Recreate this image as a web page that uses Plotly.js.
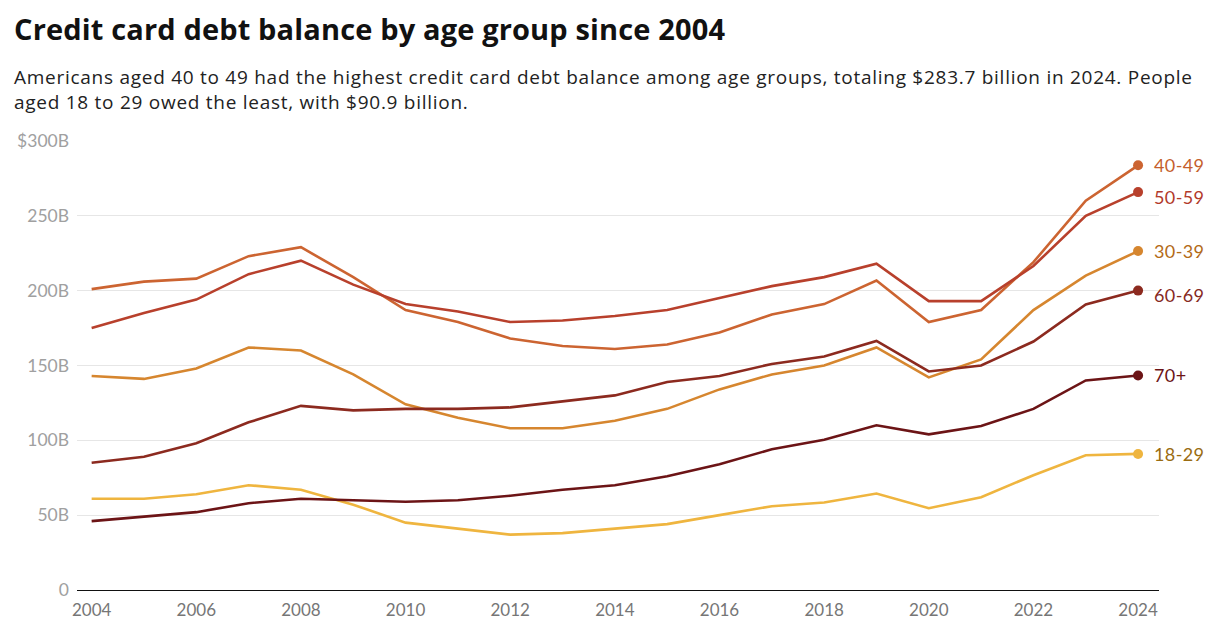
<!DOCTYPE html>
<html>
<head>
<meta charset="utf-8">
<script src="https://cdn.plot.ly/plotly-3.0.1.min.js"></script>
<style>
  html, body { margin: 0; padding: 0; background: #fff; }
  #chart { width: 1214px; height: 634px; }
</style>
</head>
<body>
<div id="chart"></div>
<script>
const years = [2004,2005,2006,2007,2008,2009,2010,2011,2012,2013,2014,2015,2016,2017,2018,2019,2020,2021,2022,2023,2024];

const age18_29 = [61,61,64,70,67,57,45,41,37,38,41,44,50,56,58.4,64.4,54.6,62,76.7,90,90.9];
const age30_39 = [143,141,148,162,160,144,124,115,108,108,113,121,134,144,150,162,142,154,187,210,226.4];
const age40_49 = [201,206,208,223,229,209,187,179,168,163,161,164,172,184,191,206.7,179,187,219,260,283.7];
const age50_59 = [175,185,194,211,220,204,191,186,179,180,183,187,195,203,209,218,193,193,216.4,250,265.8];
const age60_69 = [85,89,98,112,123,120,121,121,122,126,130,139,143,151,156,166.4,146,150,166,190.7,200];
const age70plus = [46,49,52,58,61,60,59,60,63,67,70,76,84,94,100.4,110,104,109.5,121,140,143.3];

const seriesNames = ['18-29','30-39','40-49','50-59','60-69','70+'];
const seriesValues = [age18_29, age30_39, age40_49, age50_59, age60_69, age70plus];

const yTickVals = [0,50,100,150,200,250,300];
const yTickText = ['0','50B','100B','150B','200B','250B','$300B'];
const xTickVals = [2004,2006,2008,2010,2012,2014,2016,2018,2020,2022,2024];

const lineColors = ['#efb53f','#d6862f','#cc6431','#b8402c','#8c2a1f','#6c1416'];
const labelColors = ['#9a6c12','#b36a17','#c55f2d','#b23a2a','#872a1f','#6c1416'];
const labelShift = [0, 0, 0, -5, -4, 0];

const traces = [];
seriesValues.forEach((vals, i) => {
  traces.push({
    x: years, y: vals, type: 'scatter', mode: 'lines',
    line: { color: lineColors[i], width: 2.6 },
    hoverinfo: 'skip'
  });
});
seriesValues.forEach((vals, i) => {
  traces.push({
    x: [years[years.length-1]], y: [vals[vals.length-1]],
    type: 'scatter', mode: 'markers',
    marker: { color: lineColors[i], size: 10 },
    hoverinfo: 'skip'
  });
});

const plotTop = 140, plotBottom = 590.3, plotH = plotBottom - plotTop;
const left = 77, plotW = 1159 - 77;
const py = p => (plotBottom - p) / plotH;
const px = p => (p - left) / plotW;

const annotations = seriesNames.map((name, i) => ({
  x: years[years.length-1], y: seriesValues[i][seriesValues[i].length-1],
  xref: 'x', yref: 'y', text: '<span style="letter-spacing:0.4px">' + name + '</span>', showarrow: false,
  xanchor: 'left', yanchor: 'middle', xshift: 14, yshift: labelShift[i],
  font: { family: 'Lato, sans-serif', size: 18, color: labelColors[i] }
}));

annotations.push({
  xref: 'paper', yref: 'paper', x: px(12), y: py(28),
  xanchor: 'left', yanchor: 'middle', showarrow: false, align: 'left',
  text: '<span style="letter-spacing:0.15px"><b>Credit card debt balance by age group since 2004</b></span>',
  font: { family: 'Open Sans, sans-serif', size: 29, color: '#111' }
});
annotations.push({
  xref: 'paper', yref: 'paper', x: px(12), y: py(89),
  xanchor: 'left', yanchor: 'middle', showarrow: false, align: 'left',
  text: '<span style="letter-spacing:0.73px">Americans aged 40 to 49 had the highest credit card debt balance among age groups, totaling $283.7 billion in 2024. People</span><br><span style="letter-spacing:0.73px">aged 18 to 29 owed the least, with $90.9 billion.</span>',
  font: { family: 'Open Sans, sans-serif', size: 19, color: '#222' }
});

const layout = {
  width: 1214, height: 634,
  margin: { l: left, r: 1214 - 1159, t: plotTop, b: 634 - plotBottom },
  paper_bgcolor: '#fff', plot_bgcolor: '#fff',
  showlegend: false, hovermode: false,
  font: { family: 'Lato, sans-serif' },
  xaxis: {
    range: [2003.72, 2024.40], tickvals: xTickVals, ticktext: xTickVals.map(String),
    showgrid: false, zeroline: false, showline: true, linecolor: '#111', linewidth: 1.3,
    ticks: '', tickfont: { family: 'Lato, sans-serif', size: 17, color: '#767676' },
    ticklabelstandoff: 4
  },
  yaxis: {
    range: [0, 300.6], tickvals: yTickVals, ticktext: yTickText,
    showgrid: true, gridcolor: '#e6e6e6', gridwidth: 1, zeroline: false, showline: false,
    ticks: '', tickfont: { family: 'Lato, sans-serif', size: 17.5, color: '#a0a0a0' },
    ticklabelstandoff: 7
  },
  annotations: annotations
};

Plotly.newPlot('chart', traces, layout, { displayModeBar: false, staticPlot: true });
</script>
</body>
</html>
